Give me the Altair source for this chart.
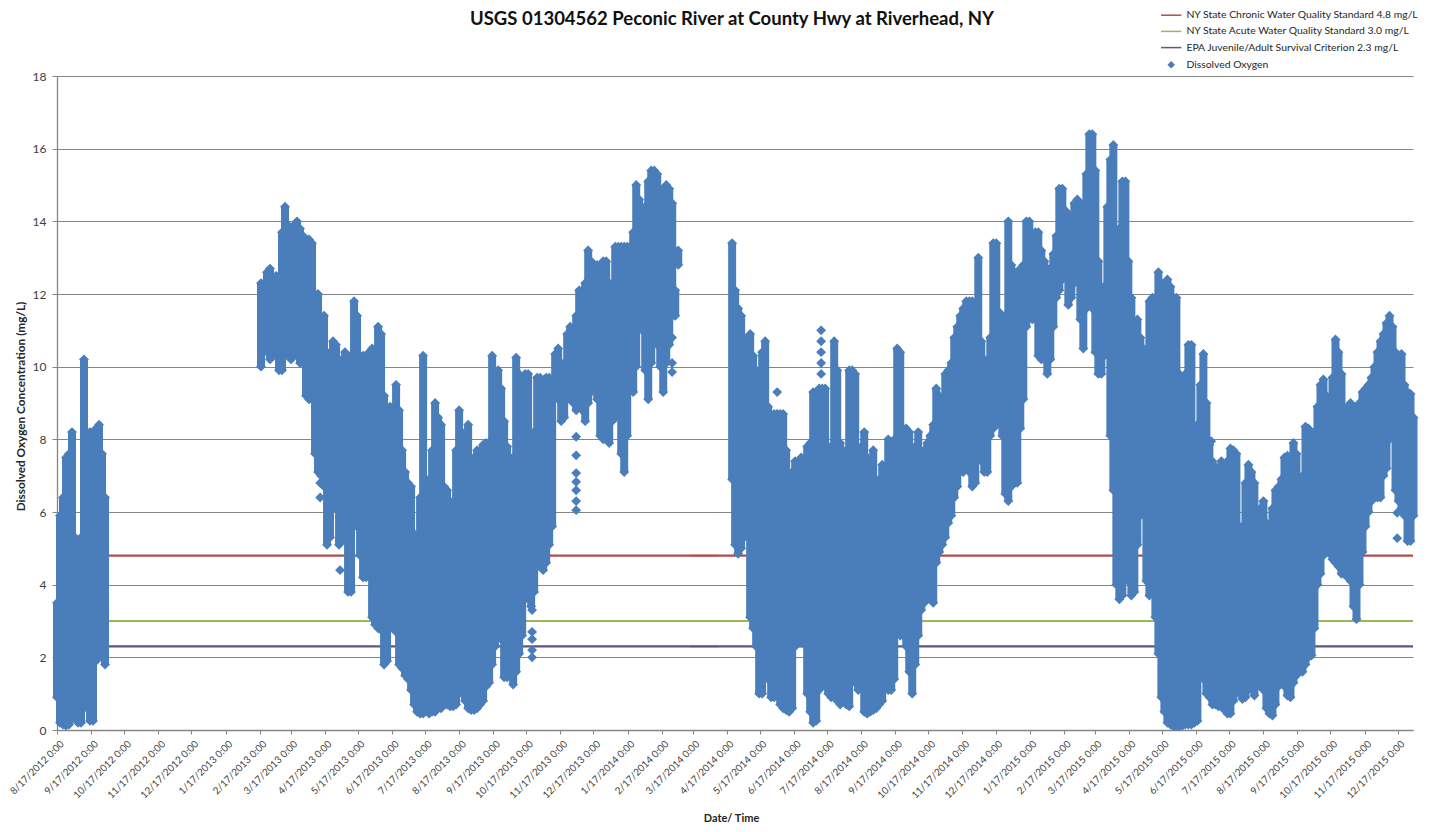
import altair as alt
import pandas as pd

TITLE = "USGS 01304562 Peconic River at County Hwy at Riverhead, NY"
FONT = "Lato"
BLUE = "#4a7ebb"
ORIGIN = pd.Timestamp("2012-08-17", tz="UTC")
DOMAIN_END = pd.Timestamp("2015-12-31", tz="UTC")
STEP_DAYS = 2.725  # spacing of the columns

# Dissolved oxygen envelope (daily low and high), three deployments
START1 = 0.0
LOW1 = [0.9,0.2,0.15,0.12,0.15,0.3,0.6,0.2,0.2,0.6,1.0,0.25,0.25,1.9,2.0,2.0,1.8]
HIGH1 = [3.5,5.9,6.4,7.5,7.6,8.2,5.3,5.2,5.3,10.2,8.2,8.2,8.2,8.3,8.4,7.6,6.4]

START2 = 185.2
LOW2 = [10.0,10.7,10.4,10.2,10.3,10.6,9.9,9.9,10.4,10.3,10.2,10.3,10.4,10.1,10.1,9.2,9.1,9.1,7.6,7.1,
        7.0,6.7,5.1,5.3,6.1,6.1,5.1,5.2,5.6,3.8,3.8,5.6,5.6,4.8,4.2,4.2,4.6,3.1,2.9,2.8,
        2.75,1.8,1.9,2.8,2.8,2.7,1.8,1.7,1.5,1.4,1.1,0.7,0.5,0.45,0.45,0.6,0.45,0.5,0.5,0.7,
        0.6,0.7,0.7,0.65,0.65,0.7,1.0,1.1,0.8,0.6,0.55,0.55,0.6,0.7,0.8,1.2,1.3,1.8,2.3,2.6,
        2.5,1.45,1.45,2.1,1.25,1.6,2.1,2.6,3.6,3.9,3.4,3.8,4.5,4.6,4.4,4.6,5.1,5.6,9.2,9.1,
        8.5,8.6,9.1,9.1,9.0,8.8,9.0,8.8,8.5,9.0,9.3,10.1,9.1,8.1,8.0,8.2,7.9,8.5,8.6,8.8,
        7.6,7.1,8.1,9.4,9.3,10.0,11.6,11.0,9.9,9.1,10.1,11.5,10.6,10.0,9.3,10.1,10.6,11.4,11.4,12.8]
HIGH2 = [12.3,12.3,12.6,12.7,12.4,12.5,12.5,13.7,14.4,13.9,13.8,13.9,14.0,13.8,13.6,13.2,13.5,13.4,12.0,12.0,
         10.9,11.4,10.4,10.1,10.7,10.6,10.2,9.9,10.4,10.3,10.2,11.8,11.4,10.3,10.3,9.6,10.4,10.5,10.3,11.1,
         10.9,9.2,8.1,8.9,8.9,9.5,8.8,7.7,7.1,6.8,6.7,5.4,5.2,6.4,10.3,6.9,6.2,7.7,9.0,8.6,
         8.4,6.7,6.6,6.3,5.4,7.7,8.8,7.4,8.2,8.4,7.4,7.5,7.7,7.7,7.85,7.9,7.9,10.3,9.8,9.9,
         9.4,8.5,7.8,7.5,7.3,10.25,9.8,8.6,9.8,9.8,8.2,8.2,9.7,9.7,8.5,9.7,9.7,9.1,10.35,10.5,
         10.1,9.9,10.9,11.1,10.8,11.4,12.1,12.1,12.3,13.2,12.9,12.8,12.8,12.5,12.9,12.9,12.3,11.9,13.3,13.3,
         13.3,13.3,13.3,13.3,13.7,15.0,14.6,13.9,14.4,15.1,15.4,15.4,15.3,14.9,14.2,15.0,14.9,14.5,12.1,13.2]

START3 = 612.9
LOW3 = [6.9,5.1,4.85,5.0,5.3,5.5,3.1,2.8,2.3,1.0,1.0,1.9,1.4,0.9,0.9,1.1,0.7,0.6,0.55,0.5,
        0.6,2.3,2.4,2.4,2.6,1.0,0.5,0.2,0.25,1.1,1.4,1.2,1.0,0.9,1.3,0.8,0.7,0.9,0.7,0.65,
        1.5,1.3,1.1,1.6,0.5,0.45,0.5,0.55,0.6,0.7,0.8,1.4,1.1,1.1,1.4,2.9,2.6,2.6,2.3,1.6,
        1.0,1.8,2.6,3.3,3.5,4.1,3.6,3.5,4.6,4.9,5.1,5.3,5.7,5.9,6.4,6.7,7.1,7.1,7.4,7.1,
        6.7,6.8,8.1,7.4,7.1,7.1,8.1,8.3,8.4,8.6,8.1,6.5,6.3,6.7,6.8,6.8,8.3,9.1,11.1,11.5,
        11.3,11.3,10.3,10.2,10.2,9.8,10.2,11.1,11.9,12.1,12.4,12.7,11.7,11.9,12.3,12.6,11.3,10.5,11.6,13.0,
        11.6,10.4,9.8,9.8,10.3,10.4,8.1,6.6,4.0,3.6,3.7,7.6,4.1,3.7,3.8,5.1,5.9,6.0,4.1,3.7,
        3.8,3.1,2.1,0.9,0.5,0.2,0.15,0.1,0.1,0.1,0.12,0.15,0.15,0.15,0.2,0.25,1.6,1.4,1.0,0.9,
        0.7,0.7,0.65,0.65,0.55,0.45,0.45,0.8,1.3,1.0,0.85,0.9,1.1,1.2,0.95,1.2,1.3,1.1,0.6,0.45,
        0.4,0.7,1.2,1.4,1.2,0.95,0.9,1.3,1.5,1.6,1.6,1.8,2.0,2.05,2.8,4.0,4.3,4.8,5.0,4.9,
        4.7,4.6,4.5,4.3,4.3,4.2,4.1,3.4,3.05,4.0,4.9,5.6,6.0,6.3,6.4,6.4,6.4,7.0,7.2,8.0,
        8.1,6.6,6.3,6.1,5.9,5.2,5.2,5.9]
HIGH3 = [13.4,12.1,11.6,11.4,10.8,10.6,10.9,10.3,9.9,8.9,10.4,10.7,8.9,7.6,8.7,8.7,8.7,8.7,7.7,5.9,
         7.1,7.4,7.4,7.5,6.9,7.8,7.9,9.3,9.3,9.4,9.4,9.4,7.8,7.8,10.7,9.9,7.9,6.9,7.7,9.9,
         9.9,9.8,6.9,7.8,8.2,7.5,6.9,7.7,6.6,6.9,7.3,6.8,8.0,7.9,8.0,10.5,10.4,8.3,8.3,8.2,
         7.7,7.8,8.2,7.6,7.7,7.9,8.1,8.4,9.4,9.2,9.1,9.8,9.9,10.1,10.8,11.1,11.4,11.6,11.8,11.8,
         11.8,11.4,13.0,10.7,10.2,10.1,10.8,13.4,13.4,11.5,10.5,11.4,14.0,12.8,12.6,12.4,12.7,12.8,14.0,14.0,
         13.3,13.7,13.7,13.2,12.9,12.7,12.7,13.1,13.6,14.9,14.9,14.3,14.2,13.9,14.5,14.6,14.5,13.5,15.3,16.4,
         16.4,15.4,12.9,12.2,12.2,14.4,15.7,16.1,13.4,13.8,15.1,15.1,12.9,11.9,9.4,11.3,10.8,10.5,9.9,11.8,
         11.9,11.9,12.6,12.3,10.2,12.4,12.2,11.9,11.9,9.8,9.7,9.8,10.6,10.6,8.1,8.4,9.5,10.35,9.0,7.85,
         7.4,7.25,7.2,7.4,7.1,7.4,7.75,7.7,7.6,5.6,5.6,6.8,7.3,7.1,6.8,6.0,6.1,6.3,5.7,5.3,
         6.1,6.6,6.7,6.9,7.5,7.55,7.05,7.9,7.6,6.8,7.0,8.35,8.3,7.5,8.2,8.9,9.5,9.65,9.2,8.9,
         9.7,10.75,10.4,9.8,8.6,8.9,9.0,8.5,8.9,9.0,9.3,9.4,9.5,9.7,10.0,10.4,10.7,10.9,11.2,11.4,
         11.1,10.4,10.3,10.35,9.5,9.3,9.25,8.6]

# Stray readings that sit away from the main body (days since the first sample, mg/L)
STRAY_DAY = [238.9,238.9,257.0,431.3,431.3,431.3,431.3,431.3,471.3,471.3,471.3,471.3,471.3,471.3,471.3,
             558.4,558.4,558.4,653.8,693.7,693.7,693.7,693.7,693.7,1047.8,1216.7,1216.7]
STRAY_VAL = [6.8,6.4,4.4,2.0,2.2,2.5,2.7,3.3,8.07,7.56,7.07,6.83,6.6,6.3,6.05,
             10.8,10.1,9.85,9.3,11.0,10.7,10.4,10.1,9.8,7.95,5.98,5.28]

SERIES = ["NY State Chronic Water Quality Standard 4.8 mg/L",
          "NY State Acute Water Quality Standard 3.0 mg/L",
          "EPA Juvenile/Adult Survival Criterion 2.3 mg/L",
          "Dissolved Oxygen"]
LEVELS = [4.8, 3.0, 2.3]
COLORS = ["#b24b4b", "#98b954", "#66508a", BLUE]
LINE_KEY = "M-3.7,0H3.7"
SHAPES = [LINE_KEY, LINE_KEY, LINE_KEY, "diamond"]
GAP_DAY = 588  # inside the gap in the record, where the threshold key rows sit

TICKS = pd.date_range("2012-08-17", "2015-12-17", freq=pd.DateOffset(months=1), tz="UTC")
YTICKS = list(range(0, 19, 2))


def iso(day):
    return (ORIGIN + pd.Timedelta(days=day)).strftime("%Y-%m-%dT%H:%M:%SZ")


rows, cols = [], []
for start, lows, highs in [(START1, LOW1, HIGH1), (START2, LOW2, HIGH2), (START3, LOW3, HIGH3)]:
    assert len(lows) == len(highs)
    for i, (lo, hi) in enumerate(zip(lows, highs)):
        t = iso(start + i * STEP_DAYS)
        cols.append({"t": t, "v": lo, "hi": hi})
        rows.append({"t": t, "v": lo, "s": SERIES[3]})
        rows.append({"t": t, "v": hi, "s": SERIES[3]})
for d, v in zip(STRAY_DAY, STRAY_VAL):
    rows.append({"t": iso(d), "v": v, "s": SERIES[3]})
for s, v in zip(SERIES[:3], LEVELS):
    rows.append({"t": iso(GAP_DAY), "v": v, "s": s})

lines = []
for s, v in zip(SERIES[:3], LEVELS):
    lines.append({"t": ORIGIN.strftime("%Y-%m-%dT%H:%M:%SZ"), "v": v, "s": s})
    lines.append({"t": DOMAIN_END.strftime("%Y-%m-%dT%H:%M:%SZ"), "v": v, "s": s})

ms = lambda ts: int(ts.value // 1_000_000)
xscale = alt.Scale(type="utc", domain=[ms(ORIGIN), ms(DOMAIN_END)], nice=False)
yscale = alt.Scale(domain=[0, 18], nice=False)
cscale = alt.Scale(domain=SERIES, range=COLORS)
sscale = alt.Scale(domain=SERIES, range=SHAPES)

xaxis = alt.Axis(
    values=[ms(t) for t in TICKS],
    labelExpr="utcFormat(datum.value, '%-m/%-d/%Y %-H:%M')",
    labelAngle=-45, labelAlign="right", labelBaseline="middle", labelPadding=8, labelOffset=5,
    labelFont=FONT, labelFontSize=9.9, labelColor="#404040", labelOverlap=False, labelBound=False,
    labelFlush=False, tickColor="#868686", tickSize=4, domainColor="#868686", domainWidth=1.3,
    grid=False, title="Date/ Time", titleFont=FONT, titleFontSize=11, titleFontWeight="bold",
    titleColor="#262626", titleX=674, titleY=82, titleAnchor="middle",
)
yaxis = alt.Axis(
    values=YTICKS, labelFont=FONT, labelFontSize=12, labelColor="#404040", labelPadding=6,
    tickColor="#868686", tickSize=5, domainColor="#868686", domainWidth=1.3,
    grid=True, gridColor="#868686", gridWidth=1.2, gridOpacity=1,
    title="Dissolved Oxygen Concentration  (mg/L)", titleFont=FONT, titleFontSize=11.8,
    titleFontWeight="bold", titleColor="#262626", titleX=-31, titleY=330, titleAngle=-90,
)
legend = alt.Legend(
    title=None, orient="none", legendX=1109, legendY=-66, labelFont=FONT, labelFontSize=10.4,
    labelColor="#262626", labelLimit=300, rowPadding=5.2, symbolSize=30, symbolStrokeWidth=1.5,
    labelOffset=10,
)

x = alt.X("t:T", scale=xscale, axis=xaxis)
y = alt.Y("v:Q", scale=yscale, axis=yaxis)

threshold = alt.Chart(pd.DataFrame(lines)).mark_line(strokeWidth=2.2).encode(
    x=x, y=y, detail="s:N", stroke=alt.Stroke("s:N", scale=cscale, legend=legend),
)
body = alt.Chart(pd.DataFrame(cols)).mark_rule(strokeWidth=8, color=BLUE).encode(
    x=x, y=y, y2="hi:Q",
)
points = alt.Chart(pd.DataFrame(rows)).mark_point(filled=False, size=60, strokeWidth=1.5, opacity=1).encode(
    x=x, y=y,
    fill=alt.Fill("s:N", scale=cscale, legend=legend),
    stroke=alt.Stroke("s:N", scale=cscale, legend=legend),
    shape=alt.Shape("s:N", scale=sscale, legend=legend),
)
heading = alt.Chart(pd.DataFrame({"label": [TITLE]})).mark_text(
    font=FONT, fontSize=18.5, fontWeight="bold", color="#111111", align="center", baseline="middle"
).encode(text="label:N", x=alt.value(675), y=alt.value(-57))

chart = alt.layer(threshold, body, points, heading).properties(
    width=1356, height=654,
    autosize=alt.AutoSizeParams(type="none"),
    padding={"left": 49, "top": 68, "right": 8, "bottom": 94},
    background="white",
).configure_view(stroke=None)

chart.save("out.html", embed_options={"renderer": "svg", "actions": False})
